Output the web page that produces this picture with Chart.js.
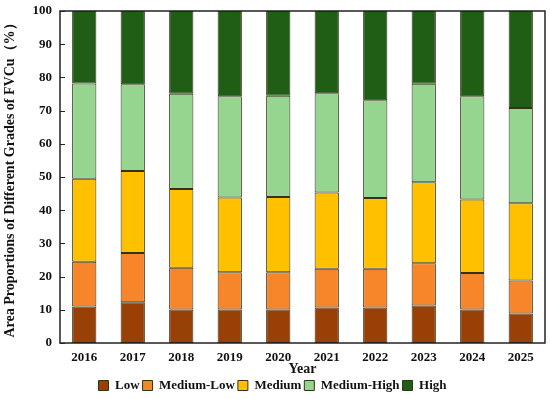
<!DOCTYPE html>
<html>
<head>
<meta charset="utf-8">
<script src="https://cdn.jsdelivr.net/npm/chart.js@4/dist/chart.umd.min.js"></script>
<style>
  html, body { margin: 0; padding: 0; background: #fff; }
  #wrap { width: 550px; height: 399px; position: relative; }
</style>
</head>
<body>
<div id="wrap"><canvas id="chartBar"></canvas></div>
<script>
const years = ["2016", "2017", "2018", "2019", "2020", "2021", "2022", "2023", "2024", "2025"];
const low = [11.0, 12.3, 10.1, 10.1, 10.1, 10.7, 10.7, 11.3, 10.1, 8.9];
const mediumLow = [13.5, 14.8, 12.6, 11.2, 11.2, 11.7, 11.7, 12.7, 11.0, 9.9];
const medium = [25.0, 24.7, 23.7, 22.5, 22.7, 22.9, 21.3, 24.4, 22.1, 23.3];
const mediumHigh = [28.7, 26.1, 28.7, 30.5, 30.5, 29.9, 29.4, 29.7, 31.1, 28.7];
const high = [21.8, 22.1, 24.9, 25.7, 25.5, 24.8, 26.9, 21.9, 25.7, 29.2];
const yTicks = [0, 10, 20, 30, 40, 50, 60, 70, 80, 90, 100];

const serif = "'Liberation Serif', 'Times New Roman', serif";

function ds(label, data, color) {
  return {
    label: label,
    data: data,
    backgroundColor: color,
    borderColor: "#33331a",
    borderWidth: 1,
    borderSkipped: false,
    barPercentage: 0.5,
    categoryPercentage: 1.0
  };
}

// frame round the plot and inward y tick marks
const framePlugin = {
  id: "frame",
  afterDraw(chart) {
    const { ctx, chartArea: a, scales } = chart;
    ctx.save();
    ctx.strokeStyle = "#222";
    ctx.lineWidth = 1.5;
    ctx.strokeRect(a.left, a.top, a.right - a.left, a.bottom - a.top);
    ctx.lineWidth = 1;
    yTicks.forEach(v => {
      const y = Math.round(scales.y.getPixelForValue(v)) + 0.5;
      ctx.beginPath();
      ctx.moveTo(a.left, y);
      ctx.lineTo(a.left + 5, y);
      ctx.stroke();
    });
    ctx.restore();
  }
};

new Chart(document.getElementById("chartBar"), {
  type: "bar",
  data: {
    labels: years,
    datasets: [
      ds("Low", low, "#984006"),
      ds("Medium-Low", mediumLow, "#F7862A"),
      ds("Medium", medium, "#FFC000"),
      ds("Medium-High", mediumHigh, "#95D58F"),
      ds("High", high, "#1F5E14")
    ]
  },
  options: {
    responsive: true,
    maintainAspectRatio: false,
    animation: false,
    layout: { padding: { top: 11, right: 5, left: 0, bottom: -3 } },
    scales: {
      x: {
        stacked: true,
        grid: { display: false, drawTicks: false },
        border: { display: false },
        afterFit: s => { s.height = 33; },
        ticks: { color: "#111", font: { family: serif, size: 13, weight: "bold" }, padding: 7 },
        title: {
          display: true, text: "Year", color: "#111",
          font: { family: serif, size: 14, weight: "bold" }, padding: { top: 0, bottom: -2 }
        }
      },
      y: {
        stacked: true,
        min: 0,
        max: 100,
        afterBuildTicks: s => { s.ticks = yTicks.map(v => ({ value: v })); },
        afterFit: s => { s.width = 60; s.paddingTop = 3; },
        grid: { display: false, drawTicks: false },
        border: { display: false },
        ticks: { color: "#111", font: { family: serif, size: 13, weight: "bold" }, padding: 8 },
        title: {
          display: true, text: "Area Proportions of Different Grades of FVCu（%）", color: "#111",
          font: { family: serif, size: 14, weight: "bold" }, padding: { top: 2, bottom: 4 }
        }
      }
    },
    plugins: {
      legend: {
        position: "bottom",
        labels: {
          color: "#111",
          boxWidth: 10,
          boxHeight: 10,
          padding: 3,
          font: { family: serif, size: 13, weight: "bold" }
        }
      },
      tooltip: { enabled: false }
    }
  },
  plugins: [framePlugin]
});
</script>
</body>
</html>
